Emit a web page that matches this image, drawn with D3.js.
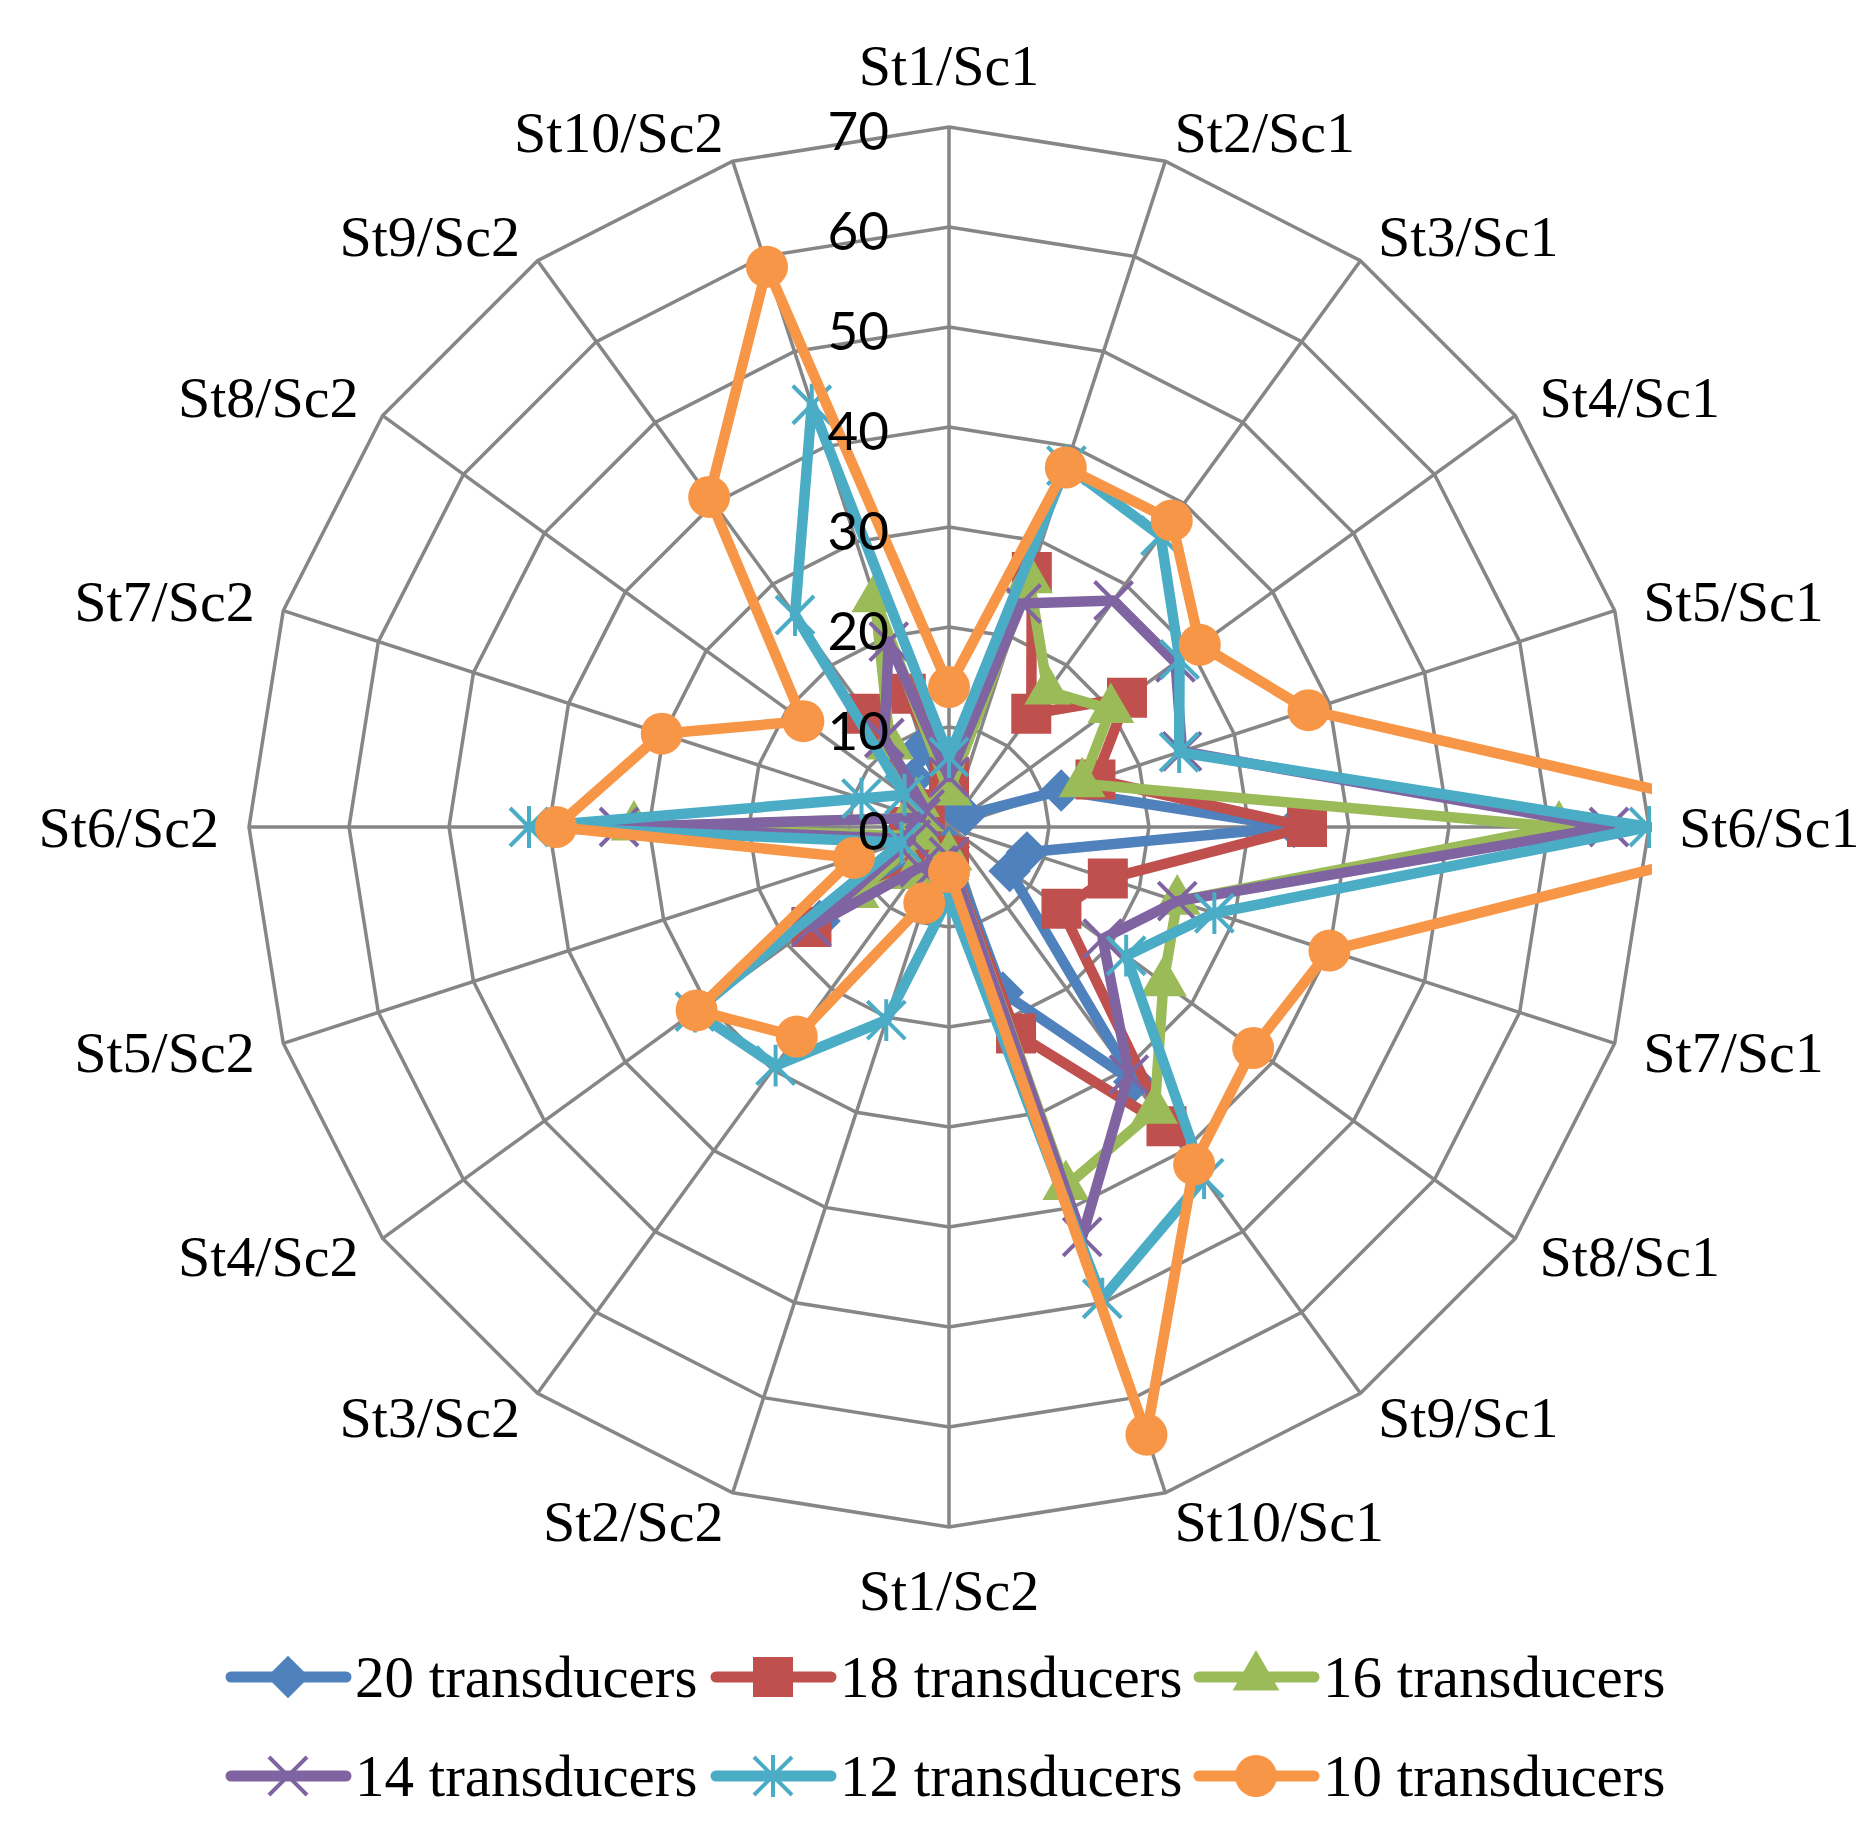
<!DOCTYPE html>
<html lang="en">
<head>
<meta charset="UTF-8">
<title>Transducer radar chart</title>
<script src="https://d3js.org/d3.v7.min.js"></script>
<style>
  html, body { margin: 0; padding: 0; background: #fff; }
  svg { display: block; }
</style>
</head>
<body>
<div id="chart"></div>
<script>
// categories, clockwise from the top
const categories = [
  "St1/Sc1", "St2/Sc1", "St3/Sc1", "St4/Sc1", "St5/Sc1",
  "St6/Sc1", "St7/Sc1", "St8/Sc1", "St9/Sc1", "St10/Sc1",
  "St1/Sc2", "St2/Sc2", "St3/Sc2", "St4/Sc2", "St5/Sc2",
  "St6/Sc2", "St7/Sc2", "St8/Sc2", "St9/Sc2", "St10/Sc2"
];
const tickValues = [0, 10, 20, 30, 40, 50, 60, 70];

const seriesNames = ["20 transducers", "18 transducers", "16 transducers",
                     "14 transducers", "12 transducers", "10 transducers"];

const t20 = [2.5, 2, 2, 2, 11.8, 34.5, 8.2, 7.5, 31.5, 17.4, 2, 3, 3, 16, 3, 4, 3, 3, 6, 8.5];
const t18 = [5, 26.8, 14, 22, 15.4, 35.8, 16.7, 13.9, 37, 21.7, 3, 3, 4, 17, 3, 4, 3, 3, 14, 14];
const t16 = [3.5, 26, 16.8, 20, 14, 61, 24, 26.5, 35, 37.8, 3, 4, 6, 11.5, 3, 31.5, 3, 4, 10, 24];
const t14 = [5, 23.5, 28, 28, 24.5, 66, 24, 19, 30.6, 43.1, 3, 4, 5, 17, 4, 33, 3, 3, 11, 19.5];
const t12 = [7, 38, 36, 28.5, 24.2, 70, 27.9, 21.9, 43.4, 49.6, 7, 20.3, 29.5, 31.4, 5, 42, 9.2, 5.5, 26.2, 44.4];
const t10 = [14, 37.8, 37.9, 31, 37.8, 87, 40, 37.6, 41.7, 63.9, 4.5, 8, 25.9, 31.2, 10, 39.3, 30.2, 18, 40.8, 58.9];

const seriesValues = [t20, t18, t16, t14, t12, t10];
const colors = ["#4F81BD", "#C0504D", "#9BBB59", "#8064A2", "#4BACC6", "#F79646"];
const markers = ["diamond", "square", "triangle", "x", "star", "circle"];

const width = 1867, height = 1831;
const cx = 949, cy = 827, R = 700;

const svg = d3.select("#chart").append("svg")
  .attr("width", width)
  .attr("height", height);

const r = d3.scaleLinear().domain([0, 70]).range([0, R]);
const angle = d3.scaleLinear().domain([0, categories.length]).range([0, 2 * Math.PI]);

const g = svg.append("g").attr("transform", `translate(${cx},${cy})`);

// grid rings
const ring = d3.lineRadial()
  .angle((d, i) => angle(i))
  .radius(d => r(d))
  .curve(d3.curveLinearClosed);

g.append("g").selectAll("path")
  .data(tickValues.slice(1))
  .enter().append("path")
  .attr("d", v => ring(categories.map(() => v)))
  .attr("fill", "none")
  .attr("stroke", "#868686")
  .attr("stroke-width", 3.5);

// spokes
g.append("g").selectAll("line")
  .data(categories)
  .enter().append("line")
  .attr("x1", 0).attr("y1", 0)
  .attr("x2", (d, i) => r(70) * Math.sin(angle(i)))
  .attr("y2", (d, i) => -r(70) * Math.cos(angle(i)))
  .attr("stroke", "#868686")
  .attr("stroke-width", 3.5);

// category labels
const labelR = R + 30;
g.append("g").selectAll("text")
  .data(categories)
  .enter().append("text")
  .attr("x", (d, i) => labelR * Math.sin(angle(i)))
  .attr("y", (d, i) => {
    const y = -labelR * Math.cos(angle(i));
    if (i === 0) return y - 32;
    if (i === 10) return y + 33;
    return y;
  })
  .attr("text-anchor", (d, i) => {
    const s = Math.sin(angle(i));
    return s > 0.01 ? "start" : (s < -0.01 ? "end" : "middle");
  })
  .attr("dominant-baseline", "central")
  .style("font-family", "'Liberation Serif', 'Times New Roman', serif")
  .style("font-size", "58px")
  .attr("fill", "#000")
  .text(d => d);

// marker drawing
function drawMarker(sel, type, color) {
  if (type === "diamond") {
    sel.append("path").attr("d", d3.symbol(d3.symbolSquare, 900)())
      .attr("fill", color).attr("transform", "rotate(45)");
  } else if (type === "square") {
    sel.append("path").attr("d", d3.symbol(d3.symbolSquare, 1600)()).attr("fill", color);
  } else if (type === "triangle") {
    sel.append("path").attr("d", d3.symbol(d3.symbolTriangle, 950)()).attr("fill", color);
  } else if (type === "circle") {
    sel.append("path").attr("d", d3.symbol(d3.symbolCircle, 1385)()).attr("fill", color);
  } else {
    const p = d3.path();
    const h = 19;
    p.moveTo(-h, -h); p.lineTo(h, h);
    p.moveTo(-h, h); p.lineTo(h, -h);
    if (type === "star") { p.moveTo(0, -h * 1.1); p.lineTo(0, h * 1.1); }
    sel.append("path").attr("d", p.toString())
      .attr("fill", "none").attr("stroke", color).attr("stroke-width", 4);
  }
}

// series, clipped to plot area
svg.append("clipPath").attr("id", "plotClip")
  .append("rect")
  .attr("x", -R - 3).attr("y", -R - 3)
  .attr("width", 2 * R + 6).attr("height", 2 * R + 6);

const plot = g.append("g").attr("clip-path", "url(#plotClip)");

const seriesLine = d3.lineRadial()
  .angle((d, i) => angle(i))
  .radius(d => r(d))
  .curve(d3.curveLinearClosed);

seriesValues.forEach((vals, si) => {
  const sg = plot.append("g");
  sg.append("path")
    .attr("d", seriesLine(vals))
    .attr("fill", "none")
    .attr("stroke", colors[si])
    .attr("stroke-width", 10.5)
    .attr("stroke-linejoin", "round");
  sg.selectAll("g.m")
    .data(vals)
    .enter().append("g")
    .attr("class", "m")
    .attr("transform", (d, i) => `translate(${r(d) * Math.sin(angle(i))},${-r(d) * Math.cos(angle(i))})`)
    .each(function() { drawMarker(d3.select(this), markers[si], colors[si]); });
});

// value axis labels
g.append("g").selectAll("text")
  .data(tickValues)
  .enter().append("text")
  .attr("x", -60)
  .attr("y", d => -r(d) + 2)
  .attr("text-anchor", "end")
  .attr("dominant-baseline", "central")
  .style("font-family", "Lato, 'Noto Sans', sans-serif")
  .style("font-size", "53px")
  .attr("fill", "#000")
  .text(d => d);

// legend
const legendX = [226, 711, 1194];
const legendY = [1677, 1776];
const legend = svg.append("g");
seriesNames.forEach((name, si) => {
  const x0 = legendX[si % 3], y0 = legendY[Math.floor(si / 3)];
  const lg = legend.append("g").attr("transform", `translate(${x0},${y0})`);
  lg.append("line")
    .attr("x1", 5).attr("x2", 120).attr("y1", 0).attr("y2", 0)
    .attr("stroke", colors[si]).attr("stroke-width", 11)
    .attr("stroke-linecap", "round");
  const mg = lg.append("g").attr("transform", "translate(62,0)");
  drawMarker(mg, markers[si], colors[si]);
  lg.append("text")
    .attr("x", 129).attr("y", 0)
    .attr("dominant-baseline", "central")
    .style("font-family", "'Liberation Serif', 'Times New Roman', serif")
    .style("font-size", "59px")
    .attr("fill", "#000")
    .text(name);
});
</script>
</body>
</html>
